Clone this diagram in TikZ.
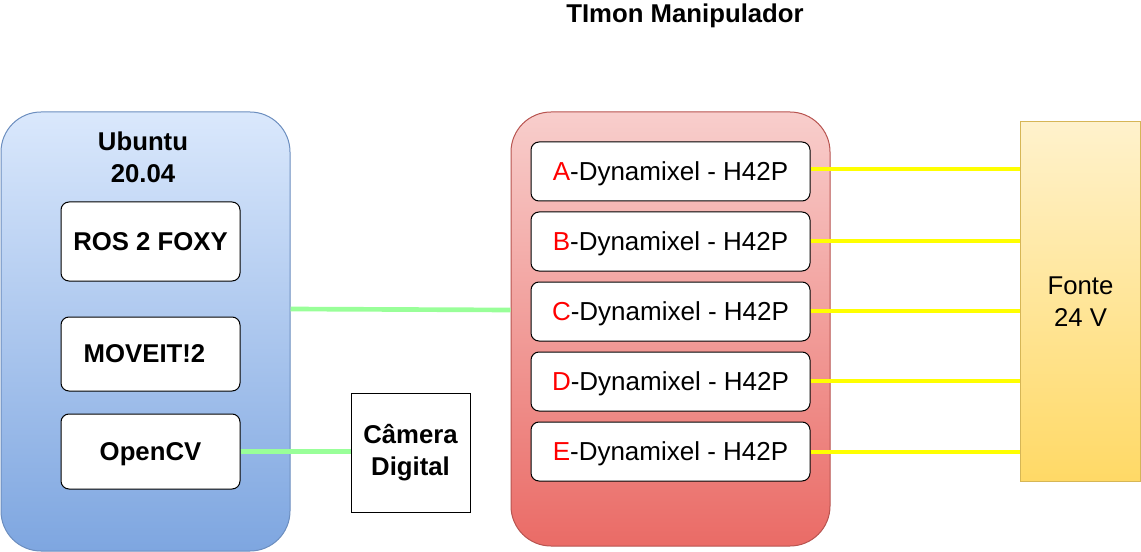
\documentclass[tikz,border=0pt]{standalone}
\usepackage{fontspec}
\setmainfont{Liberation Sans}
\definecolor{bluetop}{HTML}{DAE8FC}
\definecolor{bluebot}{HTML}{7EA6E0}
\definecolor{blueline}{HTML}{6C8EBF}
\definecolor{redtop}{HTML}{F8CECC}
\definecolor{redbot}{HTML}{EA6B66}
\definecolor{redline}{HTML}{B85450}
\definecolor{yeltop}{HTML}{FFF2CC}
\definecolor{yelbot}{HTML}{FFD966}
\definecolor{yelline}{HTML}{D6B656}
\definecolor{wiregreen}{HTML}{99FF99}
\definecolor{wireyellow}{HTML}{FFFF00}
\begin{document}
\begin{tikzpicture}[x=0.75pt,y=-0.75pt,
  container/.style={rectangle,rounded corners=30pt,minimum width=#1,inner sep=0pt,line width=0.75pt},
  swbox/.style={rectangle,draw=black,fill=white,rounded corners=6pt,inner sep=0pt,minimum width=134.25pt,line width=0.75pt,text depth=0pt,font=\bfseries\fontsize{19.3}{24}\selectfont},
  dynbox/.style={rectangle,draw=black,fill=white,rounded corners=6pt,inner sep=0pt,minimum width=209.25pt,minimum height=44.25pt,line width=0.75pt,text depth=0pt,font=\fontsize{19.5}{24}\selectfont},
  boldlbl/.style={font=\bfseries\fontsize{19.3}{24}\selectfont,align=center,inner sep=0pt},
  greenwire/.style={draw=wiregreen,line width=3.5pt},
  yellowwire/.style={draw=wireyellow,line width=3.5pt}
]
\useasboundingbox (0,0) rectangle (1141,552);

% Ubuntu container
\node[container=216.75pt,minimum height=329.25pt,top color=bluetop,bottom color=bluebot,draw=blueline] (ubuntu) at (145.5,331.5) {};
\node[boldlbl] (ubtitle) at (143,157) {Ubuntu\\20.04};

\node[swbox,minimum height=59.25pt] (ros) at (150.5,241.5) {ROS 2 FOXY};
\node[swbox,minimum height=55.5pt] (moveit) at (150.5,354) {\hspace*{-9pt}MOVEIT!2};
\node[swbox,minimum height=56.25pt] (opencv) at (150.5,451.5) {OpenCV};

% Camera
\node[rectangle,draw=black,fill=white,inner sep=0pt,minimum width=89.25pt,minimum height=89.25pt,line width=0.75pt,boldlbl] (cam) at (410.5,452.5) {Câmera\\Digital};

% Manipulator
\node[boldlbl] (mtitle) at (685,16) {TImon Manipulador};
\node[container=239.25pt,minimum height=325.5pt,top color=redtop,bottom color=redbot,draw=redline] (manip) at (670.5,329) {};

\node[dynbox] (dA) at (670.5,171.5) {\textcolor{red}{A}-Dynamixel - H42P};
\node[dynbox] (dB) at (670.5,241.5) {\textcolor{red}{B}-Dynamixel - H42P};
\node[dynbox] (dC) at (670.5,311.5) {\textcolor{red}{C}-Dynamixel - H42P};
\node[dynbox] (dD) at (670.5,381.5) {\textcolor{red}{D}-Dynamixel - H42P};
\node[dynbox] (dE) at (670.5,451.5) {\textcolor{red}{E}-Dynamixel - H42P};

% Fonte
\node[rectangle,inner sep=0pt,minimum width=90pt,minimum height=269.25pt,top color=yeltop,bottom color=yelbot,draw=yelline,line width=0.75pt,align=center,font=\fontsize{19.3}{24}\selectfont] (fonte) at (1080.5,301.5) {Fonte\\24 V};

% Wires
\draw[greenwire] (ubuntu.east |- 0,309) -- (manip.west |- 0,310);
\draw[greenwire] (opencv.east) -- (cam.west |- opencv.east);
\foreach \n/\y in {dA/169,dB/241,dC/311,dD/381,dE/452}{
  \draw[yellowwire] (\n.east |- 0,\y) -- (fonte.west |- 0,\y);
}
\end{tikzpicture}
\end{document}
